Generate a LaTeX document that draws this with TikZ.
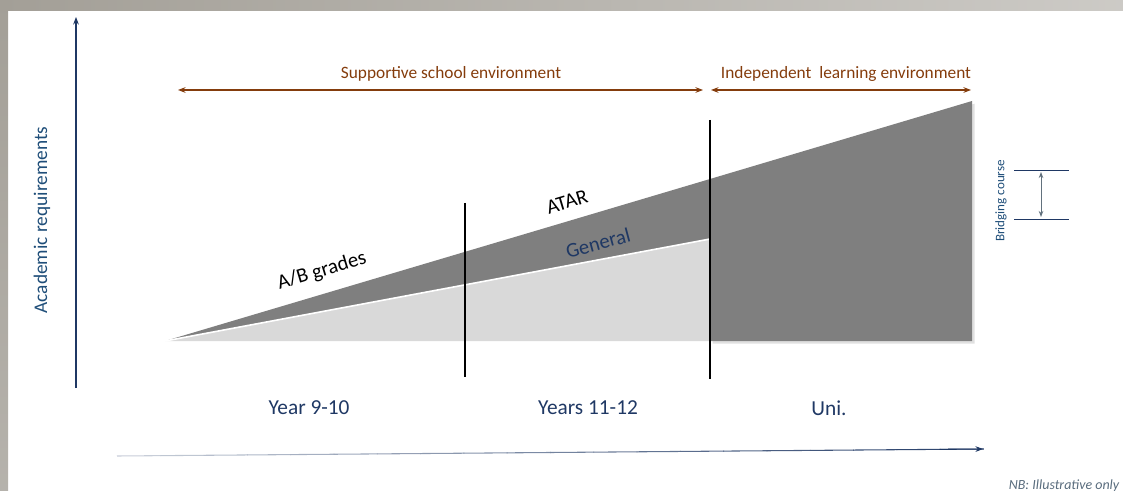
\documentclass[tikz,border=0pt]{standalone}
\usepackage{fontspec}
\setmainfont{Carlito}
\usetikzlibrary{positioning,arrows.meta,calc}
\definecolor{navy}{HTML}{1F4E79}
\definecolor{axisblue}{HTML}{1F3864}
\definecolor{rust}{HTML}{843C0C}
\definecolor{darkfill}{HTML}{7F7F7F}
\definecolor{lightfill}{HTML}{D9D9D9}
\definecolor{framegray}{HTML}{A39F97}

\begin{document}
\begin{tikzpicture}[x=0.75pt,y=-0.75pt,>={Stealth[length=2mm]},
  phase/.style={font=\fontsize{16}{18}\selectfont,text=axisblue},
  envlabel/.style={font=\fontsize{13}{15}\selectfont,text=rust},
  linelabel/.style={font=\fontsize{15.5}{17}\selectfont,rotate=16.7},
  envarrow/.style={<->,rust,thick},
  divider/.style={black,line width=0.8pt}]
\useasboundingbox (0,0) rectangle (1123,491);
% shadowed frame
\shade[left color=framegray,right color=framegray!55] (0,0) rectangle (1123,11);
\shade[top color=framegray,bottom color=framegray!80] (0,0) rectangle (8,491);

% axes
\coordinate (ybot) at (76,388);
\coordinate (ytop) at (76,17);
\draw[->,axisblue,line width=0.8pt] (ybot) -- (ytop);
\node (yaxis) [font=\fontsize{14.5}{16}\selectfont,text=navy,rotate=90] at (42,220) {Academic requirements};
\coordinate (xleft) at (117,456);
\coordinate (xright) at (983,449);
% fading time axis
\foreach \i in {0,...,19}{
  \pgfmathsetmacro{\shadeval}{25+3.75*\i}
  \draw[axisblue!\shadeval!white,line width=0.8pt] ($(xleft)!\i/20!(xright)$) -- ($(xleft)!\i/20+0.051!(xright)$);
}
\draw[->,axisblue,line width=0.8pt] ($(xleft)!0.95!(xright)$) -- (xright);
\node (nb) [font=\itshape\fontsize{10.5}{12}\selectfont,text=gray!60!navy] at (1064,486) {NB: Illustrative only};

% wedges
\coordinate (origin) at (165,341);
\coordinate (gentop) at (710,239);
\coordinate (atartop) at (710,179);
\coordinate (unitop) at (972,101);
\coordinate (unibase) at (972,341);
\coordinate (midbase) at (710,341);
\fill[lightfill] (origin) -- (gentop) -- (midbase) -- cycle;
\fill[darkfill] (origin) -- (atartop) -- (gentop) -- cycle;
\draw[white,line width=1.2pt] (origin) -- (gentop);
\fill[black!20,opacity=0.6] ([xshift=2pt,yshift=-2pt]atartop) -- ([xshift=2pt,yshift=-2pt]unitop) -- ([xshift=2pt,yshift=-2pt]unibase) -- ([xshift=2pt,yshift=-2pt]midbase) -- cycle;
\fill[darkfill] (atartop) -- (unitop) -- (unibase) -- (midbase) -- cycle;

% stage dividers
\coordinate (d1top) at (465,203);
\coordinate (d1bot) at (465,377);
\coordinate (d2top) at (710,120);
\coordinate (d2bot) at (710,379);
\draw[divider] (d1top) -- (d1bot);
\draw[divider] (d2top) -- (d2bot);

% line labels
\node (ab) [linelabel] at (322,271) {A/B grades};
\node (atar) [linelabel] at (567,202) {ATAR};
\node (general) [linelabel,text=axisblue,rotate=-1.7] at (598,243) {General};

% stages
\node (y910) [phase] at (309,408) {Year 9-10};
\node (y1112) [phase] at (588,408) {Years 11-12};
\node (uni) [phase] at (829,408) {Uni.};

% environments
\coordinate (s1) at (178,90);
\coordinate (s2) at (703,90);
\coordinate (i1) at (711,90);
\coordinate (i2) at (971,90);
\draw[envarrow] (s1) -- (s2);
\draw[envarrow] (i1) -- (i2);
\node (support) [envlabel] at (451,74) {Supportive school environment};
\node (indep) [envlabel] at (846,74) {Independent\ \ learning environment};

% bridging course
\coordinate (b1l) at (1014,170);
\coordinate (b1r) at (1069,170);
\coordinate (b2l) at (1014,219);
\coordinate (b2r) at (1069,219);
\draw[axisblue,line width=0.7pt] (b1l) -- (b1r);
\draw[axisblue,line width=0.7pt] (b2l) -- (b2r);
\draw[<->,>={Stealth[length=1.6mm]},gray!70!navy,line width=0.7pt] (1041,172) -- (1041,217);
\node (bridge) [font=\fontsize{9.8}{11}\selectfont,text=navy,rotate=90] at (1001,201) {Bridging course};
\end{tikzpicture}
\end{document}
